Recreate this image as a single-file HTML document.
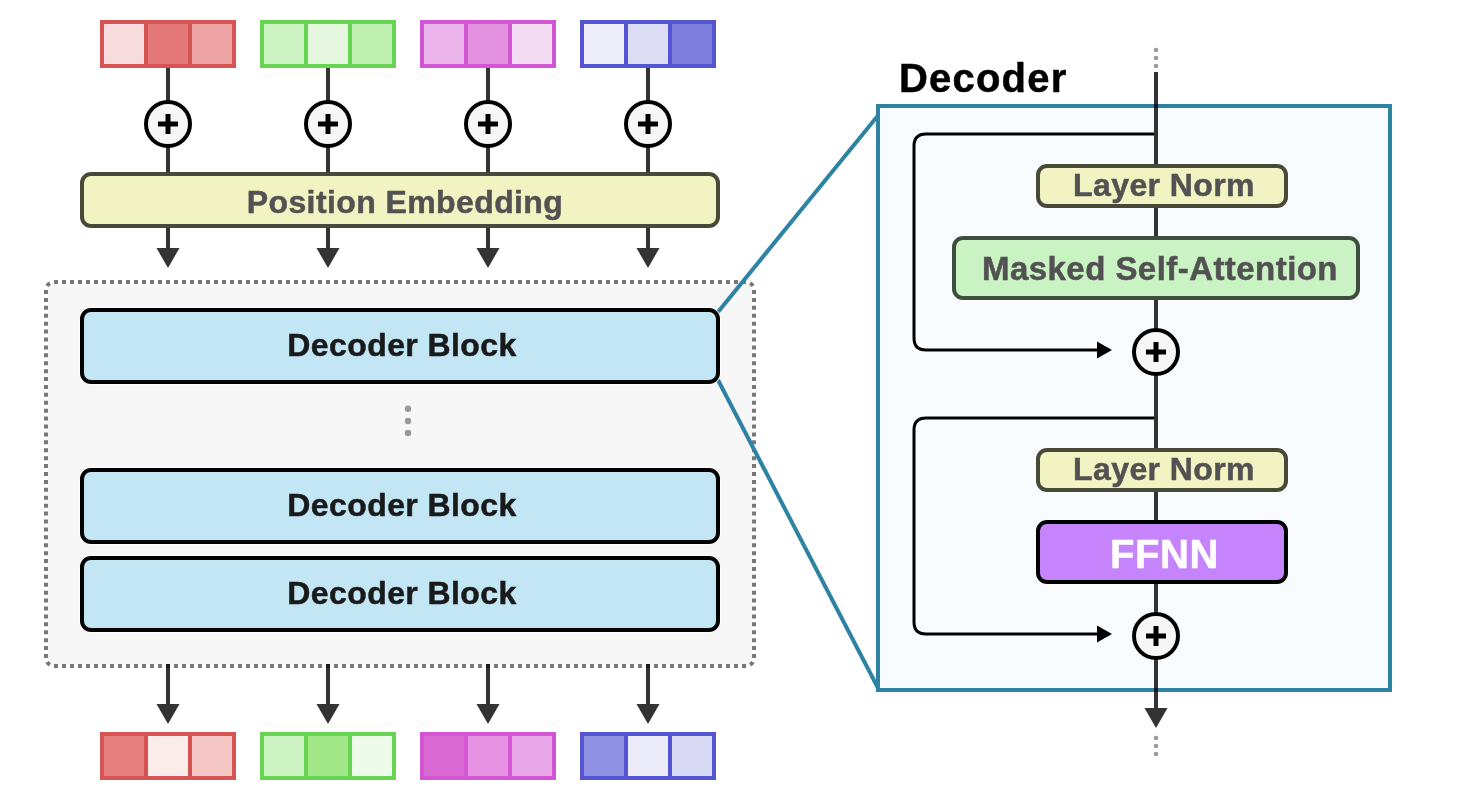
<!DOCTYPE html>
<html><head><meta charset="utf-8"><title>Decoder</title>
<style>
html,body{margin:0;padding:0;background:#ffffff;width:1460px;height:800px;overflow:hidden;}
svg{display:block;will-change:transform;}
text{font-family:"Liberation Sans", sans-serif;font-weight:bold;}
</style></head><body>
<svg width="1460" height="800" viewBox="0 0 1460 800">
<rect x="0" y="0" width="1460" height="800" fill="#ffffff"/>

<line x1="168" y1="68" x2="168" y2="174" stroke="#000" stroke-opacity="0.8" stroke-width="4"/>
<line x1="168" y1="226" x2="168" y2="250" stroke="#000" stroke-opacity="0.8" stroke-width="4"/>
<path d="M156.5,248 L179.5,248 L168,268 Z" fill="#333333"/>
<line x1="328" y1="68" x2="328" y2="174" stroke="#000" stroke-opacity="0.8" stroke-width="4"/>
<line x1="328" y1="226" x2="328" y2="250" stroke="#000" stroke-opacity="0.8" stroke-width="4"/>
<path d="M316.5,248 L339.5,248 L328,268 Z" fill="#333333"/>
<line x1="488" y1="68" x2="488" y2="174" stroke="#000" stroke-opacity="0.8" stroke-width="4"/>
<line x1="488" y1="226" x2="488" y2="250" stroke="#000" stroke-opacity="0.8" stroke-width="4"/>
<path d="M476.5,248 L499.5,248 L488,268 Z" fill="#333333"/>
<line x1="648" y1="68" x2="648" y2="174" stroke="#000" stroke-opacity="0.8" stroke-width="4"/>
<line x1="648" y1="226" x2="648" y2="250" stroke="#000" stroke-opacity="0.8" stroke-width="4"/>
<path d="M636.5,248 L659.5,248 L648,268 Z" fill="#333333"/>
<rect x="100" y="20" width="136" height="48" fill="#d55353"/>
<rect x="104" y="24" width="40" height="40" fill="#f9dcdd"/>
<rect x="148" y="24" width="40" height="40" fill="#e37979"/>
<rect x="192" y="24" width="40" height="40" fill="#eea4a4"/>
<rect x="100" y="732" width="136" height="48" fill="#d55353"/>
<rect x="104" y="736" width="40" height="40" fill="#e77f7f"/>
<rect x="148" y="736" width="40" height="40" fill="#fbecec"/>
<rect x="192" y="736" width="40" height="40" fill="#f4c6c6"/>
<rect x="260" y="20" width="136" height="48" fill="#66d450"/>
<rect x="264" y="24" width="40" height="40" fill="#ccf3c2"/>
<rect x="308" y="24" width="40" height="40" fill="#e5f8df"/>
<rect x="352" y="24" width="40" height="40" fill="#c0f0b1"/>
<rect x="260" y="732" width="136" height="48" fill="#66d450"/>
<rect x="264" y="736" width="40" height="40" fill="#cdf3c2"/>
<rect x="308" y="736" width="40" height="40" fill="#a2e788"/>
<rect x="352" y="736" width="40" height="40" fill="#eefbea"/>
<rect x="420" y="20" width="136" height="48" fill="#d455d4"/>
<rect x="424" y="24" width="40" height="40" fill="#ebb5eb"/>
<rect x="468" y="24" width="40" height="40" fill="#e292de"/>
<rect x="512" y="24" width="40" height="40" fill="#f5dcf5"/>
<rect x="420" y="732" width="136" height="48" fill="#d455d4"/>
<rect x="424" y="736" width="40" height="40" fill="#d96ad3"/>
<rect x="468" y="736" width="40" height="40" fill="#e592e2"/>
<rect x="512" y="736" width="40" height="40" fill="#e8a5e8"/>
<rect x="580" y="20" width="136" height="48" fill="#5555d4"/>
<rect x="584" y="24" width="40" height="40" fill="#eeeefa"/>
<rect x="628" y="24" width="40" height="40" fill="#dcdcf5"/>
<rect x="672" y="24" width="40" height="40" fill="#7f7fde"/>
<rect x="580" y="732" width="136" height="48" fill="#5555d4"/>
<rect x="584" y="736" width="40" height="40" fill="#9191e3"/>
<rect x="628" y="736" width="40" height="40" fill="#ebebf9"/>
<rect x="672" y="736" width="40" height="40" fill="#d9d9f5"/>
<circle cx="168" cy="124" r="22" fill="#f6f6f6" stroke="#000" stroke-width="4"/>
<rect x="158" y="121.5" width="20" height="5" fill="#000"/>
<rect x="165.5" y="114" width="5" height="20" fill="#000"/>
<circle cx="328" cy="124" r="22" fill="#f6f6f6" stroke="#000" stroke-width="4"/>
<rect x="318" y="121.5" width="20" height="5" fill="#000"/>
<rect x="325.5" y="114" width="5" height="20" fill="#000"/>
<circle cx="488" cy="124" r="22" fill="#f6f6f6" stroke="#000" stroke-width="4"/>
<rect x="478" y="121.5" width="20" height="5" fill="#000"/>
<rect x="485.5" y="114" width="5" height="20" fill="#000"/>
<circle cx="648" cy="124" r="22" fill="#f6f6f6" stroke="#000" stroke-width="4"/>
<rect x="638" y="121.5" width="20" height="5" fill="#000"/>
<rect x="645.5" y="114" width="5" height="20" fill="#000"/>
<rect x="82" y="174" width="636" height="52" rx="9" fill="#f2f3c3" stroke="#49493a" stroke-width="4"/>
<text x="405" y="212.5" font-size="32" letter-spacing="0.4" fill="#525252" stroke="#525252" stroke-width="0.5" text-anchor="middle">Position Embedding</text>
<rect x="48" y="284" width="704" height="380" rx="6" fill="#f7f7f7"/>
<path d="M54.00,280h4v4h-4zM54.00,664h4v4h-4zM62.00,280h4v4h-4zM62.00,664h4v4h-4zM70.00,280h4v4h-4zM70.00,664h4v4h-4zM78.00,280h4v4h-4zM78.00,664h4v4h-4zM86.00,280h4v4h-4zM86.00,664h4v4h-4zM94.00,280h4v4h-4zM94.00,664h4v4h-4zM102.00,280h4v4h-4zM102.00,664h4v4h-4zM110.00,280h4v4h-4zM110.00,664h4v4h-4zM118.00,280h4v4h-4zM118.00,664h4v4h-4zM126.00,280h4v4h-4zM126.00,664h4v4h-4zM134.00,280h4v4h-4zM134.00,664h4v4h-4zM142.00,280h4v4h-4zM142.00,664h4v4h-4zM150.00,280h4v4h-4zM150.00,664h4v4h-4zM158.00,280h4v4h-4zM158.00,664h4v4h-4zM166.00,280h4v4h-4zM166.00,664h4v4h-4zM174.00,280h4v4h-4zM174.00,664h4v4h-4zM182.00,280h4v4h-4zM182.00,664h4v4h-4zM190.00,280h4v4h-4zM190.00,664h4v4h-4zM198.00,280h4v4h-4zM198.00,664h4v4h-4zM206.00,280h4v4h-4zM206.00,664h4v4h-4zM214.00,280h4v4h-4zM214.00,664h4v4h-4zM222.00,280h4v4h-4zM222.00,664h4v4h-4zM230.00,280h4v4h-4zM230.00,664h4v4h-4zM238.00,280h4v4h-4zM238.00,664h4v4h-4zM246.00,280h4v4h-4zM246.00,664h4v4h-4zM254.00,280h4v4h-4zM254.00,664h4v4h-4zM262.00,280h4v4h-4zM262.00,664h4v4h-4zM270.00,280h4v4h-4zM270.00,664h4v4h-4zM278.00,280h4v4h-4zM278.00,664h4v4h-4zM286.00,280h4v4h-4zM286.00,664h4v4h-4zM294.00,280h4v4h-4zM294.00,664h4v4h-4zM302.00,280h4v4h-4zM302.00,664h4v4h-4zM310.00,280h4v4h-4zM310.00,664h4v4h-4zM318.00,280h4v4h-4zM318.00,664h4v4h-4zM326.00,280h4v4h-4zM326.00,664h4v4h-4zM334.00,280h4v4h-4zM334.00,664h4v4h-4zM342.00,280h4v4h-4zM342.00,664h4v4h-4zM350.00,280h4v4h-4zM350.00,664h4v4h-4zM358.00,280h4v4h-4zM358.00,664h4v4h-4zM366.00,280h4v4h-4zM366.00,664h4v4h-4zM374.00,280h4v4h-4zM374.00,664h4v4h-4zM382.00,280h4v4h-4zM382.00,664h4v4h-4zM390.00,280h4v4h-4zM390.00,664h4v4h-4zM398.00,280h4v4h-4zM398.00,664h4v4h-4zM406.00,280h4v4h-4zM406.00,664h4v4h-4zM414.00,280h4v4h-4zM414.00,664h4v4h-4zM422.00,280h4v4h-4zM422.00,664h4v4h-4zM430.00,280h4v4h-4zM430.00,664h4v4h-4zM438.00,280h4v4h-4zM438.00,664h4v4h-4zM446.00,280h4v4h-4zM446.00,664h4v4h-4zM454.00,280h4v4h-4zM454.00,664h4v4h-4zM462.00,280h4v4h-4zM462.00,664h4v4h-4zM470.00,280h4v4h-4zM470.00,664h4v4h-4zM478.00,280h4v4h-4zM478.00,664h4v4h-4zM486.00,280h4v4h-4zM486.00,664h4v4h-4zM494.00,280h4v4h-4zM494.00,664h4v4h-4zM502.00,280h4v4h-4zM502.00,664h4v4h-4zM510.00,280h4v4h-4zM510.00,664h4v4h-4zM518.00,280h4v4h-4zM518.00,664h4v4h-4zM526.00,280h4v4h-4zM526.00,664h4v4h-4zM534.00,280h4v4h-4zM534.00,664h4v4h-4zM542.00,280h4v4h-4zM542.00,664h4v4h-4zM550.00,280h4v4h-4zM550.00,664h4v4h-4zM558.00,280h4v4h-4zM558.00,664h4v4h-4zM566.00,280h4v4h-4zM566.00,664h4v4h-4zM574.00,280h4v4h-4zM574.00,664h4v4h-4zM582.00,280h4v4h-4zM582.00,664h4v4h-4zM590.00,280h4v4h-4zM590.00,664h4v4h-4zM598.00,280h4v4h-4zM598.00,664h4v4h-4zM606.00,280h4v4h-4zM606.00,664h4v4h-4zM614.00,280h4v4h-4zM614.00,664h4v4h-4zM622.00,280h4v4h-4zM622.00,664h4v4h-4zM630.00,280h4v4h-4zM630.00,664h4v4h-4zM638.00,280h4v4h-4zM638.00,664h4v4h-4zM646.00,280h4v4h-4zM646.00,664h4v4h-4zM654.00,280h4v4h-4zM654.00,664h4v4h-4zM662.00,280h4v4h-4zM662.00,664h4v4h-4zM670.00,280h4v4h-4zM670.00,664h4v4h-4zM678.00,280h4v4h-4zM678.00,664h4v4h-4zM686.00,280h4v4h-4zM686.00,664h4v4h-4zM694.00,280h4v4h-4zM694.00,664h4v4h-4zM702.00,280h4v4h-4zM702.00,664h4v4h-4zM710.00,280h4v4h-4zM710.00,664h4v4h-4zM718.00,280h4v4h-4zM718.00,664h4v4h-4zM726.00,280h4v4h-4zM726.00,664h4v4h-4zM734.00,280h4v4h-4zM734.00,664h4v4h-4zM742.00,280h4v4h-4zM742.00,664h4v4h-4zM44,290.00h4v4h-4zM752,290.00h4v4h-4zM44,297.91h4v4h-4zM752,297.91h4v4h-4zM44,305.83h4v4h-4zM752,305.83h4v4h-4zM44,313.74h4v4h-4zM752,313.74h4v4h-4zM44,321.65h4v4h-4zM752,321.65h4v4h-4zM44,329.57h4v4h-4zM752,329.57h4v4h-4zM44,337.48h4v4h-4zM752,337.48h4v4h-4zM44,345.39h4v4h-4zM752,345.39h4v4h-4zM44,353.30h4v4h-4zM752,353.30h4v4h-4zM44,361.22h4v4h-4zM752,361.22h4v4h-4zM44,369.13h4v4h-4zM752,369.13h4v4h-4zM44,377.04h4v4h-4zM752,377.04h4v4h-4zM44,384.96h4v4h-4zM752,384.96h4v4h-4zM44,392.87h4v4h-4zM752,392.87h4v4h-4zM44,400.78h4v4h-4zM752,400.78h4v4h-4zM44,408.70h4v4h-4zM752,408.70h4v4h-4zM44,416.61h4v4h-4zM752,416.61h4v4h-4zM44,424.52h4v4h-4zM752,424.52h4v4h-4zM44,432.43h4v4h-4zM752,432.43h4v4h-4zM44,440.35h4v4h-4zM752,440.35h4v4h-4zM44,448.26h4v4h-4zM752,448.26h4v4h-4zM44,456.17h4v4h-4zM752,456.17h4v4h-4zM44,464.09h4v4h-4zM752,464.09h4v4h-4zM44,472.00h4v4h-4zM752,472.00h4v4h-4zM44,479.91h4v4h-4zM752,479.91h4v4h-4zM44,487.83h4v4h-4zM752,487.83h4v4h-4zM44,495.74h4v4h-4zM752,495.74h4v4h-4zM44,503.65h4v4h-4zM752,503.65h4v4h-4zM44,511.57h4v4h-4zM752,511.57h4v4h-4zM44,519.48h4v4h-4zM752,519.48h4v4h-4zM44,527.39h4v4h-4zM752,527.39h4v4h-4zM44,535.30h4v4h-4zM752,535.30h4v4h-4zM44,543.22h4v4h-4zM752,543.22h4v4h-4zM44,551.13h4v4h-4zM752,551.13h4v4h-4zM44,559.04h4v4h-4zM752,559.04h4v4h-4zM44,566.96h4v4h-4zM752,566.96h4v4h-4zM44,574.87h4v4h-4zM752,574.87h4v4h-4zM44,582.78h4v4h-4zM752,582.78h4v4h-4zM44,590.70h4v4h-4zM752,590.70h4v4h-4zM44,598.61h4v4h-4zM752,598.61h4v4h-4zM44,606.52h4v4h-4zM752,606.52h4v4h-4zM44,614.43h4v4h-4zM752,614.43h4v4h-4zM44,622.35h4v4h-4zM752,622.35h4v4h-4zM44,630.26h4v4h-4zM752,630.26h4v4h-4zM44,638.17h4v4h-4zM752,638.17h4v4h-4zM44,646.09h4v4h-4zM752,646.09h4v4h-4zM44,654.00h4v4h-4zM752,654.00h4v4h-4zM45.40,284.90A10,10 0 0 1 48.90,281.40L50.94,284.84A6,6 0 0 0 48.84,286.94ZM751.10,281.40A10,10 0 0 1 754.60,284.90L751.16,286.94A6,6 0 0 0 749.06,284.84ZM754.60,663.10A10,10 0 0 1 751.10,666.60L749.06,663.16A6,6 0 0 0 751.16,661.06ZM48.90,666.60A10,10 0 0 1 45.40,663.10L48.84,661.06A6,6 0 0 0 50.94,663.16Z" fill="#787878"/>
<line x1="168" y1="664" x2="168" y2="706" stroke="#000" stroke-opacity="0.8" stroke-width="4"/>
<path d="M156.5,704 L179.5,704 L168,724 Z" fill="#333333"/>
<line x1="328" y1="664" x2="328" y2="706" stroke="#000" stroke-opacity="0.8" stroke-width="4"/>
<path d="M316.5,704 L339.5,704 L328,724 Z" fill="#333333"/>
<line x1="488" y1="664" x2="488" y2="706" stroke="#000" stroke-opacity="0.8" stroke-width="4"/>
<path d="M476.5,704 L499.5,704 L488,724 Z" fill="#333333"/>
<line x1="648" y1="664" x2="648" y2="706" stroke="#000" stroke-opacity="0.8" stroke-width="4"/>
<path d="M636.5,704 L659.5,704 L648,724 Z" fill="#333333"/>
<line x1="718" y1="312" x2="878" y2="115.5" stroke="#2e83a4" stroke-width="4"/>
<line x1="718" y1="380" x2="878" y2="688" stroke="#2e83a4" stroke-width="4"/>
<rect x="79.5" y="307.5" width="641" height="77" rx="11" fill="#fff"/>
<rect x="82" y="310" width="636" height="72" rx="9" fill="#c3e6f5" stroke="#000" stroke-width="4"/>
<text x="402" y="355.8" font-size="32" letter-spacing="0.4" fill="#1a1a1a" stroke="#1a1a1a" stroke-width="0.5" text-anchor="middle">Decoder Block</text>
<rect x="79.5" y="467.5" width="641" height="77" rx="11" fill="#fff"/>
<rect x="82" y="470" width="636" height="72" rx="9" fill="#c3e6f5" stroke="#000" stroke-width="4"/>
<text x="402" y="515.8" font-size="32" letter-spacing="0.4" fill="#1a1a1a" stroke="#1a1a1a" stroke-width="0.5" text-anchor="middle">Decoder Block</text>
<rect x="79.5" y="555.5" width="641" height="77" rx="11" fill="#fff"/>
<rect x="82" y="558" width="636" height="72" rx="9" fill="#c3e6f5" stroke="#000" stroke-width="4"/>
<text x="402" y="603.8" font-size="32" letter-spacing="0.4" fill="#1a1a1a" stroke="#1a1a1a" stroke-width="0.5" text-anchor="middle">Decoder Block</text>
<circle cx="408" cy="408.7" r="3.2" fill="#999"/>
<circle cx="408" cy="421" r="3.2" fill="#999"/>
<circle cx="408" cy="433" r="3.2" fill="#999"/>
<rect x="878" y="106" width="512" height="584" fill="#f8fcff" stroke="#2e83a4" stroke-width="4"/>
<text x="899" y="92" font-size="40" letter-spacing="1.2" fill="#000" stroke="#000" stroke-width="0.5">Decoder</text>
<line x1="1156" y1="72" x2="1156" y2="710" stroke="#000" stroke-opacity="0.8" stroke-width="4"/>
<path d="M1144.5,708 L1167.5,708 L1156,728 Z" fill="#333333"/>
<circle cx="1156" cy="50" r="2.3" fill="#9a9a9a"/>
<circle cx="1156" cy="58" r="2.3" fill="#9a9a9a"/>
<circle cx="1156" cy="66" r="2.3" fill="#9a9a9a"/>
<circle cx="1156" cy="738" r="2.3" fill="#9a9a9a"/>
<circle cx="1156" cy="746" r="2.3" fill="#9a9a9a"/>
<circle cx="1156" cy="754" r="2.3" fill="#9a9a9a"/>
<path d="M1154,134 L926,134 Q914,134 914,146 L914,338 Q914,350 926,350 L1099,350" fill="none" stroke="#000" stroke-width="3"/>
<path d="M1097,341.5 L1112,350 L1097,358.5 Z" fill="#000"/>
<circle cx="1156" cy="352" r="22" fill="#f6f6f6" stroke="#000" stroke-width="4"/>
<rect x="1146" y="349.5" width="20" height="5" fill="#000"/>
<rect x="1153.5" y="342" width="5" height="20" fill="#000"/>
<path d="M1154,418 L926,418 Q914,418 914,430 L914,622 Q914,634 926,634 L1099,634" fill="none" stroke="#000" stroke-width="3"/>
<path d="M1097,625.5 L1112,634 L1097,642.5 Z" fill="#000"/>
<circle cx="1156" cy="636" r="22" fill="#f6f6f6" stroke="#000" stroke-width="4"/>
<rect x="1146" y="633.5" width="20" height="5" fill="#000"/>
<rect x="1153.5" y="626" width="5" height="20" fill="#000"/>
<rect x="1038" y="166" width="248" height="40" rx="9" fill="#f2f3c3" stroke="#49493a" stroke-width="4"/>
<text x="1164" y="196" font-size="32" letter-spacing="0.4" fill="#525252" stroke="#525252" stroke-width="0.5" text-anchor="middle">Layer Norm</text>
<rect x="1038" y="450" width="248" height="40" rx="9" fill="#f2f3c3" stroke="#49493a" stroke-width="4"/>
<text x="1164" y="480" font-size="32" letter-spacing="0.4" fill="#525252" stroke="#525252" stroke-width="0.5" text-anchor="middle">Layer Norm</text>
<rect x="954" y="238" width="404" height="60" rx="9" fill="#c9f3c3" stroke="#3f4d3c" stroke-width="4"/>
<text x="1160" y="279.6" font-size="33" letter-spacing="0.45" fill="#525252" stroke="#525252" stroke-width="0.5" text-anchor="middle">Masked Self-Attention</text>
<rect x="1038" y="522" width="248" height="60" rx="9" fill="#c684fc" stroke="#000" stroke-width="4"/>
<text x="1164.5" y="568" font-size="40" letter-spacing="0.6" fill="#ffffff" stroke="#ffffff" stroke-width="0.5" text-anchor="middle">FFNN</text>
</svg></body></html>
